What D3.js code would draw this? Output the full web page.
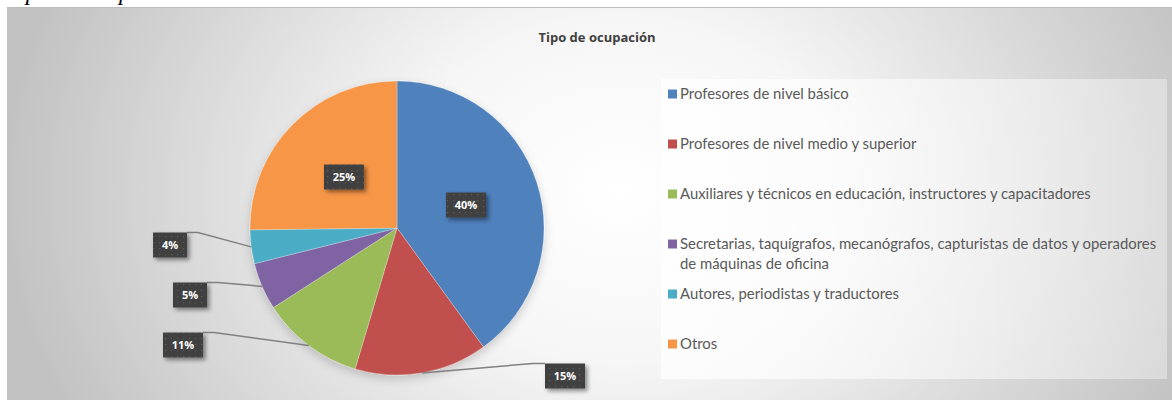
<!DOCTYPE html>
<html>
<head>
<meta charset="utf-8">
<script src="https://cdn.jsdelivr.net/npm/d3@7.9.0/dist/d3.min.js"></script>
<style>
  html, body { margin: 0; padding: 0; background: #fff; overflow: hidden; }
  svg { display: block; }
</style>
</head>
<body>
<svg id="chart" width="1172" height="400"></svg>
<script>
// datos de la gráfica
const categories = [
  "Profesores de nivel básico",
  "Profesores de nivel medio y superior",
  "Auxiliares y técnicos en educación, instructores y capacitadores",
  "Secretarias, taquígrafos, mecanógrafos, capturistas de datos y operadores de máquinas de oficina",
  "Autores, periodistas y traductores",
  "Otros"
];
const values = [40.0, 14.6, 11.3, 5.2, 3.7, 25.2];
const labels = ["40%", "15%", "11%", "5%", "4%", "25%"];
const colorList = ["#4f81bd", "#c0504d", "#9bbb59", "#8064a2", "#4bacc6", "#f79646"];

// posicion de las etiquetas respecto al centro del pastel (dx, dy) y si llevan linea guia
const labelLayout = [
  { dx: 69, dy: -23, leader: false },
  { dx: 168, dy: 148, leader: true },
  { dx: -214, dy: 117, leader: true },
  { dx: -207, dy: 67, leader: true },
  { dx: -227, dy: 17, leader: true },
  { dx: -53, dy: -51, leader: false }
];

const svg = d3.select("#chart");
const defs = svg.append("defs");

// fondo con degradado radial
const bg = defs.append("radialGradient")
  .attr("id", "bg")
  .attr("gradientUnits", "userSpaceOnUse")
  .attr("cx", 620).attr("cy", 190).attr("r", 620)
  .attr("gradientTransform", "translate(620,190) scale(1,0.8) translate(-620,-190)");
bg.append("stop").attr("offset", 0).attr("stop-color", "#ffffff");
bg.append("stop").attr("offset", 0.35).attr("stop-color", "#f6f6f6");
bg.append("stop").attr("offset", 1).attr("stop-color", "#c2c2c2");

const legendGrad = defs.append("linearGradient")
  .attr("id", "legbg").attr("x1", 0).attr("x2", 1).attr("y1", 0).attr("y2", 0);
legendGrad.append("stop").attr("offset", 0).attr("stop-color", "#fff").attr("stop-opacity", 0.75);
legendGrad.append("stop").attr("offset", 1).attr("stop-color", "#fff").attr("stop-opacity", 0.35);

// patron de puntos para las cajas de etiquetas
const pat = defs.append("pattern")
  .attr("id", "dots").attr("patternUnits", "userSpaceOnUse")
  .attr("width", 6).attr("height", 6);
pat.append("rect").attr("width", 6).attr("height", 6).attr("fill", "#404040");
pat.append("rect").attr("x", 2).attr("y", 2).attr("width", 1.2).attr("height", 1.2).attr("fill", "#5c5c5c");

const shadow = defs.append("filter").attr("id", "shadow")
  .attr("x", "-30%").attr("y", "-30%").attr("width", "160%").attr("height", "160%");
shadow.append("feDropShadow").attr("dx", 2.5).attr("dy", 2.5).attr("stdDeviation", 2)
  .attr("flood-color", "#000").attr("flood-opacity", 0.45);

const pieShadow = defs.append("filter").attr("id", "pieshadow")
  .attr("x", "-20%").attr("y", "-20%").attr("width", "140%").attr("height", "150%");
pieShadow.append("feDropShadow").attr("dx", 0).attr("dy", 4).attr("stdDeviation", 5)
  .attr("flood-color", "#000").attr("flood-opacity", 0.18);

// titulo de la pagina (cortado arriba, como en el documento)
svg.append("text")
  .attr("x", 7).attr("y", 0)
  .attr("font-family", "Liberation Serif, serif")
  .attr("font-style", "italic")
  .attr("font-size", 24)
  .attr("fill", "#000")
  .text("Tipo de ocupación.");

// area del grafico
svg.append("rect")
  .attr("x", 7).attr("y", 7).attr("width", 1172).attr("height", 400)
  .attr("fill", "url(#bg)");
svg.append("line")
  .attr("x1", 7).attr("x2", 1172).attr("y1", 7.5).attr("y2", 7.5)
  .attr("stroke", "#bdbdbd").attr("stroke-width", 1);

svg.append("text")
  .attr("x", 597).attr("y", 42)
  .attr("text-anchor", "middle")
  .attr("font-family", "Open Sans, sans-serif")
  .attr("font-weight", "bold")
  .attr("font-size", 13)
  .attr("fill", "#404040")
  .text("Tipo de ocupación");

// pastel
const cx = 397, cy = 228, radius = 147;
const pie = d3.pie().sort(null).value(d => d);
const arcData = pie(values);
const arc = d3.arc().innerRadius(0).outerRadius(radius);
const color = d3.scaleOrdinal().domain(categories).range(colorList);

const g = svg.append("g").attr("transform", `translate(${cx},${cy})`);
g.append("g").attr("filter", "url(#pieshadow)")
  .selectAll("path")
  .data(arcData)
  .join("path")
  .attr("d", arc)
  .attr("fill", (d, i) => color(categories[i]))
  .attr("stroke", "rgba(255,255,255,0.35)")
  .attr("stroke-width", 0.75);

// etiquetas de datos
const boxH = 25;
arcData.forEach((d, i) => {
  const lay = labelLayout[i];
  const w = labels[i].length > 2 ? 40 : 34;
  const bx = lay.dx - w / 2, by = lay.dy - boxH / 2;

  if (lay.leader) {
    const mid = (d.startAngle + d.endAngle) / 2;
    const px = radius * Math.sin(mid), py = -radius * Math.cos(mid);
    let pts;
    if (lay.dx < 0) {
      pts = [[px, py], [bx + w + 11, by], [bx + w, by]];
    } else {
      pts = [[px, py], [bx - 12, by], [bx, by]];
    }
    g.append("path")
      .attr("d", d3.line()(pts))
      .attr("fill", "none")
      .attr("stroke", "#808080")
      .attr("stroke-width", 1.5);
  }

  g.append("rect")
    .attr("x", bx).attr("y", by).attr("width", w).attr("height", boxH)
    .attr("fill", "url(#dots)")
    .attr("filter", "url(#shadow)");
  g.append("text")
    .attr("x", lay.dx).attr("y", lay.dy + 4)
    .attr("text-anchor", "middle")
    .attr("font-family", "Open Sans, sans-serif")
    .attr("font-weight", "bold")
    .attr("font-size", 11)
    .attr("fill", "#fff")
    .text(labels[i]);
});

// leyenda
svg.append("rect")
  .attr("x", 661).attr("y", 79).attr("width", 506).attr("height", 300)
  .attr("fill", "url(#legbg)");

const legendX = 668, legendY0 = 94, rowStep = 50, lineH = 20, maxW = 482;

// tamaño de letra ajustado para que la fila 3 mida lo mismo que en la imagen (~411px)
const probe = svg.append("text")
  .attr("font-family", "Lato, sans-serif").attr("font-size", 14)
  .text(categories[2]);
const legendFont = 14 * 411 / probe.node().getComputedTextLength();
probe.remove();

const leg = svg.append("g");
categories.forEach((c, i) => {
  const y = legendY0 + i * rowStep;
  leg.append("rect")
    .attr("x", legendX).attr("y", y - 4.5).attr("width", 9).attr("height", 9)
    .attr("fill", color(c));
  const t = leg.append("text")
    .attr("font-family", "Lato, sans-serif")
    .attr("font-size", legendFont)
    .attr("fill", "#595959");
  // ajuste de lineas por ancho
  const words = c.split(" ");
  let line = [], lineNo = 0;
  let ts = t.append("tspan").attr("x", legendX + 12).attr("y", y + 5);
  words.forEach(wd => {
    line.push(wd);
    ts.text(line.join(" "));
    if (ts.node().getComputedTextLength() > maxW && line.length > 1) {
      line.pop();
      ts.text(line.join(" "));
      line = [wd];
      lineNo++;
      ts = t.append("tspan").attr("x", legendX + 12).attr("y", y + 5 + lineNo * lineH).text(wd);
    }
  });
});
</script>
</body>
</html>
